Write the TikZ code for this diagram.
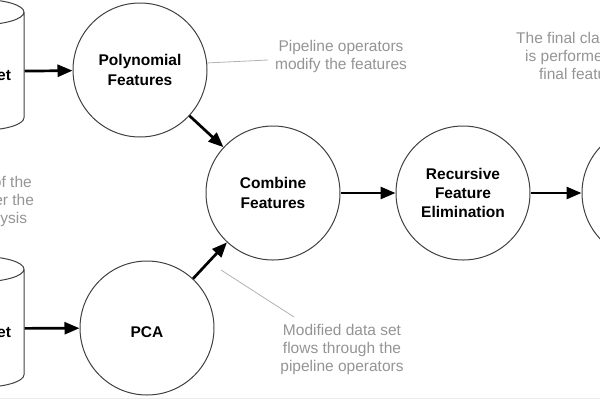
\documentclass[tikz,border=0pt]{standalone}
\usepackage{fontspec}
\setmainfont{Liberation Sans}
\usetikzlibrary{arrows.meta, positioning, shapes.geometric}

\begin{document}
\begin{tikzpicture}[
  x=1pt, y=-1pt,
  op/.style={circle, draw=black!75, line width=1pt, minimum size=134pt, inner sep=0pt, align=center,
    execute at begin node={\rule{0pt}{20pt}}, font=\fontsize{15.5}{19.3}\selectfont\bfseries},
  dataset/.style={cylinder, shape border rotate=90, aspect=0.41, draw=black!75, line width=1pt,
    minimum width=88pt, minimum height=131pt, inner sep=0pt, align=center,
    execute at begin node={\rule{0pt}{19pt}}, font=\fontsize{15.5}{19.3}\selectfont\bfseries},
  arrow/.style={-{Triangle[length=15pt, width=12pt]}, line width=2.7pt},
  note/.style={align=center, text=black!42, font=\fontsize{15.5}{18}\selectfont},
  noteline/.style={draw=black!30, line width=0.8pt},
]
\useasboundingbox (0,0) rectangle (600,400);
\clip (0,0) rectangle (600,400);

% --- Data sets and operators
\node[dataset] (data1) at (-20,71.5) {Data Set};
\node[dataset] (data2) at (-20,328.5) {Data Set};

\node[op] (poly)    at (140,70)  {Polynomial\\Features};
\node[op] (pca)     at (147,328) {PCA};
\node[op] (combine) at (273,193) {Combine\\Features};
\node[op, right=55pt of combine] (rfe) {Recursive\\Feature\\Elimination};
\node[op, right=51pt of rfe] (final) {};

% --- Notes
\node[note] (copynote)  at (-41,201) {Multiple copies of the\\data set can enter the\\pipeline for analysis};
\node[note] (opnote)    at (341,56)  {Pipeline operators\\modify the features};
\node[note] (modnote)   at (342,349) {Modified data set\\flows through the\\pipeline operators};
\node[note] (finalnote) at (592,56)  {The final classification\\is performed on the\\final feature set};

\coordinate (opend)   at (268,60);
\coordinate (flowtip) at (221,270);
\coordinate (modend)  at (294,317);

% --- Arrows
\draw[arrow] (data1) -- (poly);
\draw[arrow] (data2) -- (pca);
\draw[arrow] (poly) -- (combine);
\draw[arrow] (pca) -- (combine);
\draw[arrow] (combine) -- (rfe);
\draw[arrow] (rfe) -- (final);

% --- Note lines
\draw[noteline] (poly.6) -- (opend);
\draw[noteline] (flowtip) -- (modend);

\draw[black!8] (0,398) -- (600,398);
\end{tikzpicture}
\end{document}
